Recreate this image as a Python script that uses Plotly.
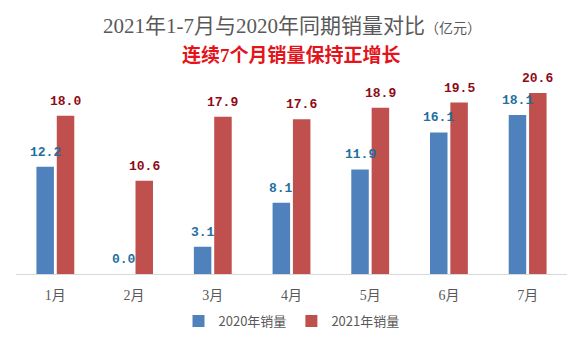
import plotly.graph_objects as go

# Monthly sales, 100 million yuan
months = ["1月", "2月", "3月", "4月", "5月", "6月", "7月"]
sales_2020 = [12.2, 0.0, 3.1, 8.1, 11.9, 16.1, 18.1]
sales_2021 = [18.0, 10.6, 17.9, 17.6, 18.9, 19.5, 20.6]
series_names = ["2020年销量", "2021年销量"]

BAR_COLORS = ["#4f81bd", "#c0504d"]
LABEL_COLORS = ["#1f6fa3", "#8e0b16"]
CJK = "Noto Sans CJK SC"
SERIF_CJK = "Liberation Serif, Noto Sans CJK SC"

W, H = 577, 341
M_L, M_R, M_T, M_B = 16, 10, 85, 67
BARGAP = 0.483
Y_MAX = 21.5

fig = go.Figure()
for name, vals, col in zip(series_names, [sales_2020, sales_2021], BAR_COLORS):
    fig.add_trace(go.Bar(x=months, y=vals, name=name, marker_color=col,
                         marker_line_width=0))

# value labels above each bar, shifted to the centre of its slot in the group
cat_px = (W - M_L - M_R) / len(months)
slot_px = cat_px * (1 - BARGAP) / 2
for k, (vals, col) in enumerate(zip([sales_2020, sales_2021], LABEL_COLORS)):
    shift = (k - 0.5) * slot_px
    for m, v in zip(months, vals):
        fig.add_annotation(x=m, y=v, text=f"{v:.1f}", showarrow=False,
                           xref="x", yref="y", yanchor="bottom",
                           xshift=shift, yshift=5,
                           font=dict(family="Liberation Mono", size=13,
                                     color=col, weight="bold"))

# headline and sub-headline
fig.add_annotation(xref="paper", yref="paper", x=0.5, y=1, yshift=M_T - 26,
                   yanchor="middle", showarrow=False,
                   text="2021年1-7月与2020年同期销量对比<span style='font-size:14px'>（亿元）</span>",
                   font=dict(family=SERIF_CJK, size=21, color="#595959"))
fig.add_annotation(xref="paper", yref="paper", x=0.5, y=1, yshift=M_T - 55,
                   yanchor="middle", showarrow=False,
                   text="<b>连续7个月销量保持正增长</b>",
                   font=dict(family=SERIF_CJK, size=19, color="#e3141b"))

fig.update_layout(
    width=W, height=H,
    margin=dict(l=M_L, r=M_R, t=M_T, b=M_B, autoexpand=False),
    paper_bgcolor="white", plot_bgcolor="white",
    barmode="group", bargap=BARGAP, bargroupgap=0.14,
    showlegend=True,
    legend=dict(orientation="h", x=0.5, xanchor="center",
                yref="container", y=1 - 321 / H, yanchor="middle",
                font=dict(family=CJK, size=13, color="#595959"),
                itemwidth=30, traceorder="normal"),
    xaxis=dict(showline=True, linecolor="#d9d9d9", linewidth=1,
               showgrid=False, ticks="", ticklabelstandoff=8,
               tickfont=dict(family=SERIF_CJK, size=14, color="#595959")),
    yaxis=dict(range=[0, Y_MAX], visible=False, showgrid=False,
               zeroline=False),
)

fig.write_html("out.html")
